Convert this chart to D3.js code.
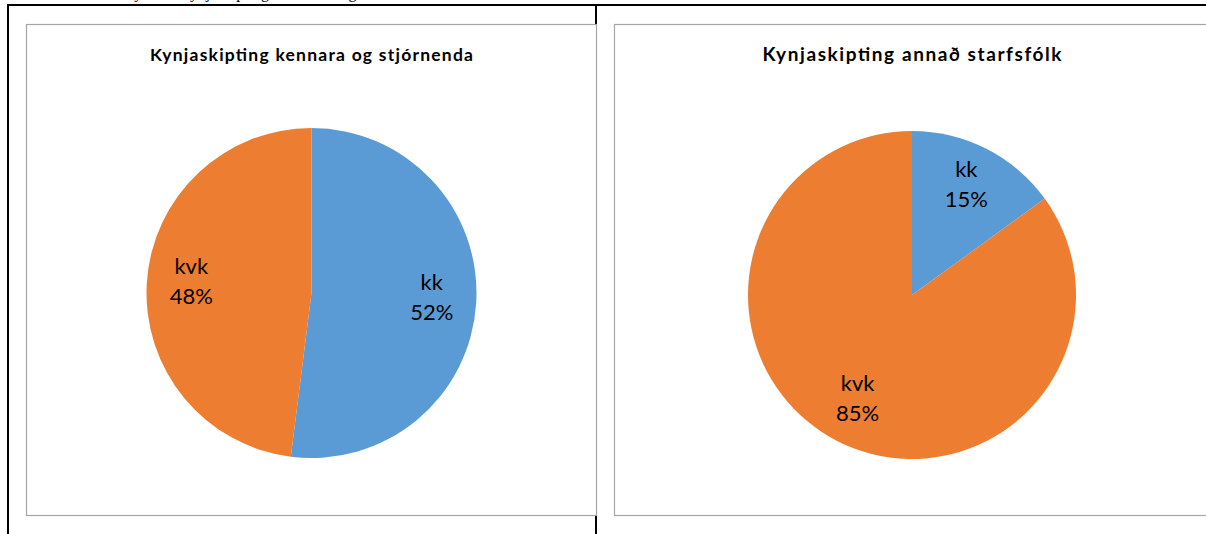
<!DOCTYPE html>
<html>
<head>
<meta charset="utf-8">
<script src="https://cdn.jsdelivr.net/npm/d3@7"></script>
<style>
  body { margin: 0; background: #fff; }
  svg { display: block; }
</style>
</head>
<body>
<svg id="chart" width="1206" height="534"></svg>
<script>
// data
var categories = ["kk", "kvk"];
var titles = ["Kynjaskipting kennara og stjórnenda", "Kynjaskipting annað starfsfólk"];
var teachersValues = [52, 48];
var staffValues = [15, 85];
var colors = ["#5B9BD5", "#ED7D31"];

var svg = d3.select("#chart");

// caption above the table, mostly scrolled off the top
svg.append("text")
    .attr("x", 255).attr("y", -2)
    .attr("text-anchor", "middle")
    .style("font-family", "'Liberation Serif', serif")
    .style("font-size", "16px")
    .text("Mynd 1. Kynjaskipting eftir starfi og aldri");

// table lines
svg.append("line").attr("x1", 7).attr("x2", 1206).attr("y1", 5).attr("y2", 5)
    .attr("stroke", "#000").attr("stroke-width", 2);
svg.append("line").attr("x1", 8).attr("x2", 8).attr("y1", 4).attr("y2", 534)
    .attr("stroke", "#000").attr("stroke-width", 2);
svg.append("line").attr("x1", 596).attr("x2", 596).attr("y1", 4).attr("y2", 534)
    .attr("stroke", "#000").attr("stroke-width", 2);

var panels = [
    { values: teachersValues, title: titles[0], box: [26, 24, 570, 491], cx: 311.5, cy: 293, r: 165, titleSize: 17.5, titleWidth: 323 },
    { values: staffValues, title: titles[1], box: [614, 24, 600, 491], cx: 912, cy: 295, r: 164, titleSize: 19, titleWidth: 299 }
];

panels.forEach(function (p) {
    var g = svg.append("g");

    g.append("rect")
        .attr("x", p.box[0] + 0.5).attr("y", p.box[1] + 0.5)
        .attr("width", p.box[2]).attr("height", p.box[3])
        .attr("fill", "#fff").attr("stroke", "#a6a6a6").attr("stroke-width", 1.2);

    g.append("text")
        .attr("x", p.cx).attr("y", 61)
        .attr("text-anchor", "middle")
        .attr("textLength", p.titleWidth)
        .attr("lengthAdjust", "spacing")
        .style("font-family", "Lato, 'Open Sans', sans-serif")
        .style("font-weight", "bold")
        .style("font-size", p.titleSize + "px")
        .style("fill", "#000")
        .text(p.title);

    var pie = d3.pie().sort(null).value(function (d) { return d; });
    var arcs = pie(p.values);
    var arc = d3.arc().innerRadius(0).outerRadius(p.r);
    var labelArc = d3.arc().innerRadius(p.r * 0.73).outerRadius(p.r * 0.73);

    var pg = g.append("g").attr("transform", "translate(" + p.cx + "," + p.cy + ")");

    pg.selectAll("path.slice")
        .data(arcs)
        .enter().append("path")
        .attr("class", "slice")
        .attr("d", arc)
        .attr("fill", function (d, i) { return colors[i]; });

    var labels = pg.selectAll("text.lbl")
        .data(arcs)
        .enter().append("text")
        .attr("class", "lbl")
        .attr("text-anchor", "middle")
        .attr("transform", function (d) { return "translate(" + labelArc.centroid(d) + ")"; })
        .style("font-family", "Lato, 'Open Sans', sans-serif")
        .style("font-size", "22px")
        .style("fill", "#000");

    labels.append("tspan").attr("x", 0).attr("y", -11)
        .text(function (d, i) { return categories[i]; });
    labels.append("tspan").attr("x", 0).attr("y", 19)
        .text(function (d) { return d.value + "%"; });
});
</script>
</body>
</html>
